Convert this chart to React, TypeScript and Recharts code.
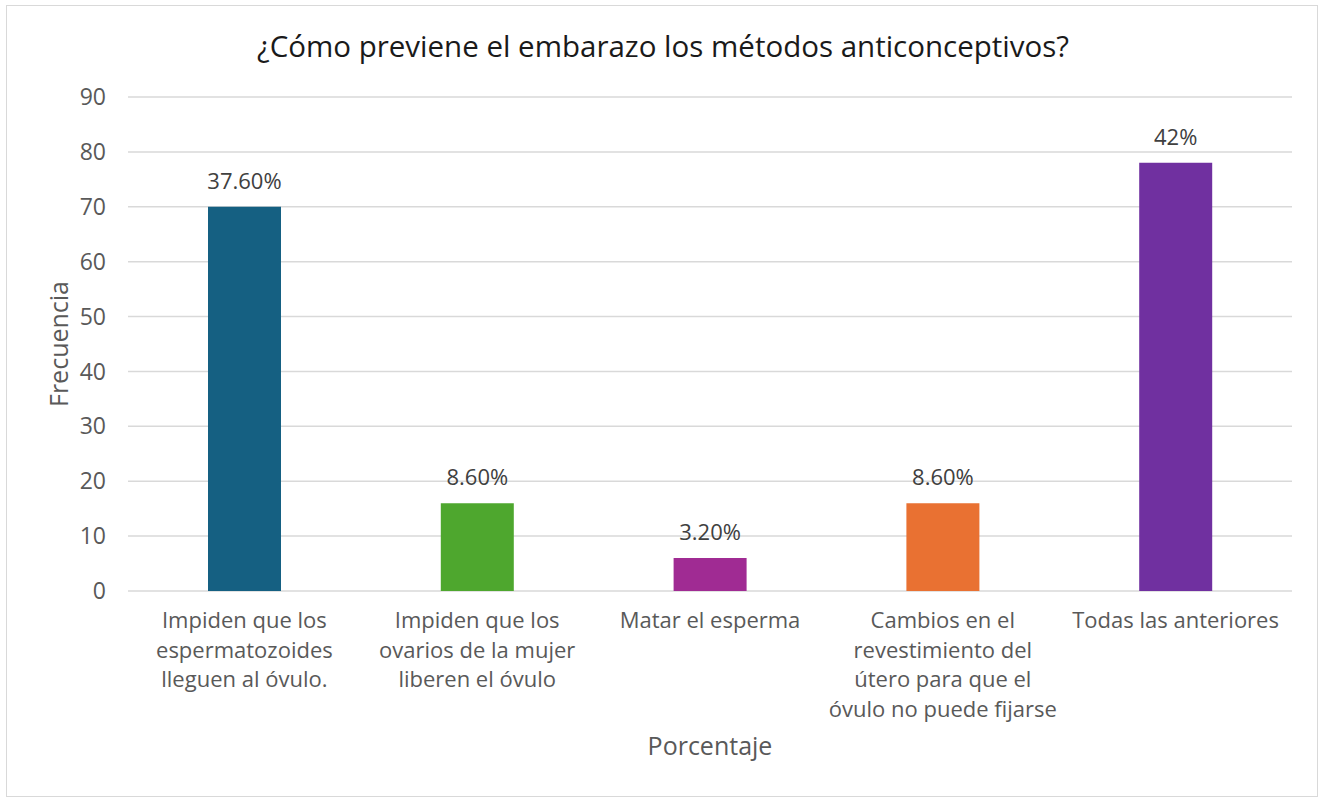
import { BarChart, Bar, XAxis, YAxis, CartesianGrid, Cell, LabelList, Label } from 'recharts'

const FONT = '"Open Sans", "Liberation Sans", sans-serif'

const categories = [
  'Impiden que los\nespermatozoides\nlleguen al óvulo.',
  'Impiden que los\novarios de la mujer\nliberen el óvulo',
  'Matar el esperma',
  'Cambios en el\nrevestimiento del\nútero para que el\nóvulo no puede fijarse',
  'Todas las anteriores',
]
const frecuencia = [70, 16, 6, 16, 78]
const porcentajes = ['37.60%', '8.60%', '3.20%', '8.60%', '42%']
const colors = ['#156082', '#4EA72E', '#A02B93', '#E97132', '#7030A0']
const yTicks = [0, 10, 20, 30, 40, 50, 60, 70, 80, 90]

const data = categories.map((name, i) => ({
  name,
  value: frecuencia[i],
  pct: porcentajes[i],
}))

function CategoryTick({ x, y, payload }: any) {
  const lines = String(payload.value).split('\n')
  return (
    <text x={x} y={y} textAnchor="middle" fill="#595959" fontSize={22} fontFamily={FONT}>
      {lines.map((line, i) => (
        <tspan key={i} x={x} dy={i === 0 ? 37 : 29.5}>
          {line}
        </tspan>
      ))}
    </text>
  )
}

export default function App() {
  return (
    <div style={{ position: 'absolute', left: 0, top: 0, width: 1323, height: 797, background: '#fff' }}>
      <div
        style={{
          position: 'absolute',
          left: 6,
          top: 5,
          width: 1310,
          height: 790,
          border: '1px solid #d9d9d9',
          boxSizing: 'content-box',
        }}
      />
      <div
        style={{
          position: 'absolute',
          left: 0,
          top: 31,
          width: 1326,
          textAlign: 'center',
          fontFamily: FONT,
          fontSize: 29.5,
          lineHeight: '29px',
          color: '#1a1a1a',
        }}
      >
        ¿Cómo previene el embarazo los métodos anticonceptivos?
      </div>
      <div style={{ position: 'absolute', left: 0, top: 0 }}>
        <BarChart
          width={1323}
          height={797}
          data={data}
          margin={{ top: 97, right: 31, bottom: 36, left: 0 }}
        >
          <CartesianGrid vertical={false} stroke="#d9d9d9" strokeWidth={1.5} />
          <XAxis
            dataKey="name"
            height={170}
            axisLine={false}
            tickLine={false}
            tickSize={0}
            tickMargin={0}
            interval={0}
            tick={<CategoryTick />}
          >
            <Label
              value="Porcentaje"
              position="insideBottom"
              offset={6}
              fill="#595959"
              fontSize={25}
              fontFamily={FONT}
            />
          </XAxis>
          <YAxis
            width={128}
            domain={[0, 90]}
            ticks={yTicks}
            axisLine={false}
            tickLine={false}
            tickSize={0}
            tickMargin={22}
            tick={{ fill: '#595959', fontSize: 23, fontFamily: FONT }}
          >
            <Label
              value="Frecuencia"
              angle={-90}
              position="insideLeft"
              offset={59}
              fill="#595959"
              fontSize={25}
              fontFamily={FONT}
              style={{ textAnchor: 'middle' }}
            />
          </YAxis>
          <Bar dataKey="value" barSize={73} isAnimationActive={false}>
            {data.map((entry, i) => (
              <Cell key={`cell-${i}`} fill={colors[i]} />
            ))}
            <LabelList
              dataKey="pct"
              position="top"
              offset={18}
              fill="#404040"
              fontSize={22}
              fontFamily={FONT}
            />
          </Bar>
        </BarChart>
      </div>
    </div>
  )
}
